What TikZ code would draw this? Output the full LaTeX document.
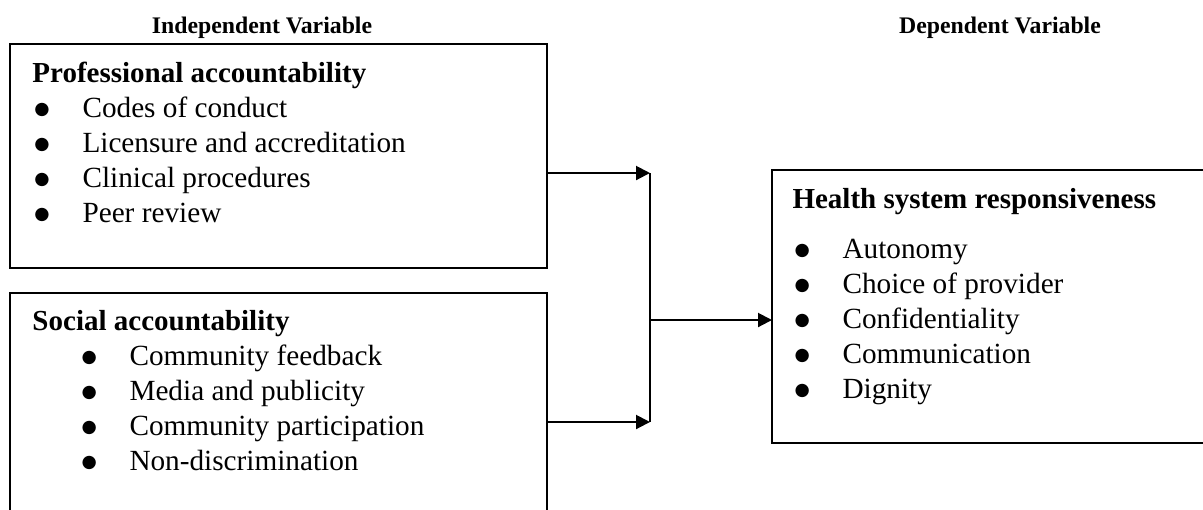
\documentclass[tikz,border=0pt]{standalone}
\usepackage{fontspec}
\setmainfont{Liberation Serif}
\newfontfamily\dotfont{DejaVu Sans}
\usetikzlibrary{arrows.meta, positioning}
\newcommand{\itm}[1]{\makebox[19.2pt][l]{\raisebox{1.2pt}{\dotfont\fontsize{7}{8}\selectfont ●}}#1}

\begin{document}
\begin{tikzpicture}[x=0.4pt, y=-0.4pt,
    box/.style={draw, line width=0.7pt, inner sep=0pt, outer sep=0pt, anchor=north west},
    head/.style={font=\fontsize{11.6}{14}\selectfont\bfseries, anchor=base west, inner sep=0pt},
    item/.style={font=\fontsize{11.7}{14}\selectfont, anchor=base west, inner sep=0pt},
    varlab/.style={font=\fontsize{9.5}{11}\selectfont\bfseries, anchor=base, inner sep=0pt},
    arr/.style={-{Triangle[length=5.6pt, width=5.6pt]}, line width=0.8pt},
]
\useasboundingbox (0,0) rectangle (1203,509);
\clip (0,0) rectangle (1203,509);

% Column titles
\node[varlab] (indep) at (262,33) {Independent Variable};
\node[varlab] (dep) at (1000,33) {Dependent Variable};

% Professional accountability
\node[box, minimum width=214.8pt, minimum height=89.6pt] (prof) at (10,44) {};
\node[head] (profh) at (32,82) {Professional accountability};
\node[item] (prof1) at (34,117) {\itm{Codes of conduct}};
\node[item] (prof2) at (34,152) {\itm{Licensure and accreditation}};
\node[item] (prof3) at (34,187) {\itm{Clinical procedures}};
\node[item] (prof4) at (34,222) {\itm{Peer review}};

% Social accountability
\node[box, minimum width=214.8pt, minimum height=100pt] (soc) at (10,293) {};
\node[head] (soch) at (32,330) {Social accountability};
\node[item] (soc1) at (81,365) {\itm{Community feedback}};
\node[item] (soc2) at (81,400) {\itm{Media and publicity}};
\node[item] (soc3) at (81,435) {\itm{Community participation}};
\node[item] (soc4) at (81,470) {\itm{Non-discrimination}};

% Health system responsiveness
\node[box, minimum width=180pt, minimum height=109.2pt] (resp) at (772,170) {};
\node[head] (resph) at (792,208) {Health system responsiveness};
\node[item] (resp1) at (794,258) {\itm{Autonomy}};
\node[item] (resp2) at (794,293) {\itm{Choice of provider}};
\node[item] (resp3) at (794,328) {\itm{Confidentiality}};
\node[item] (resp4) at (794,363) {\itm{Communication}};
\node[item] (resp5) at (794,398) {\itm{Dignity}};

% Connectors
\coordinate (jtop) at (650,173);
\coordinate (jbot) at (650,422);
\coordinate (jmid) at (650,320);
\draw[arr] (jtop -| prof.east) -- (jtop);
\draw[arr] (jbot -| soc.east) -- (jbot);
\draw[line width=0.8pt] (jtop) -- (jbot);
\draw[arr] (jmid) -- (jmid -| resp.west);

\end{tikzpicture}
\end{document}
